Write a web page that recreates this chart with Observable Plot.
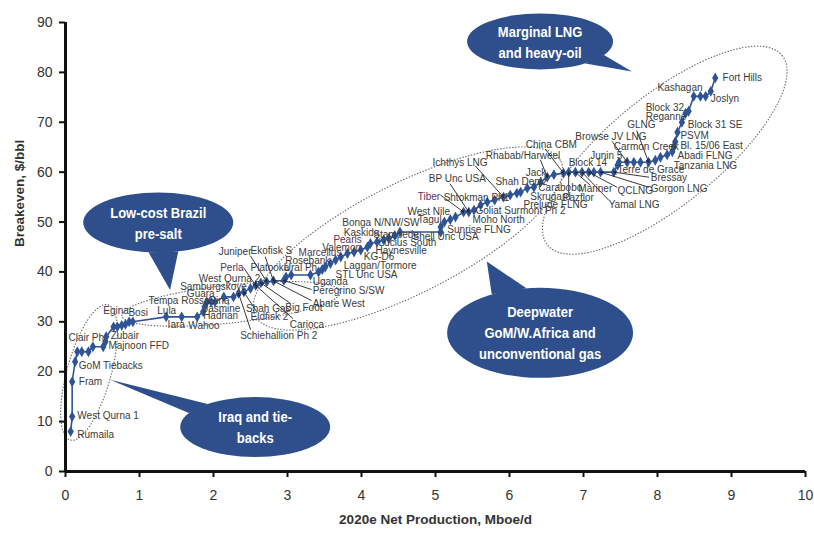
<!DOCTYPE html>
<html><head><meta charset="utf-8">
<script src="https://cdn.jsdelivr.net/npm/d3@7"></script>
<script src="https://cdn.jsdelivr.net/npm/@observablehq/plot@0.6"></script>
<style>
body{margin:0;background:#fff;}
#chart svg{display:block;}
</style>
</head><body><div id="chart"></div>
<script>
// ---- Cost-curve series (cumulative 2020e net production, breakeven) ----
const production = [0.07,0.09,0.09,0.13,0.16,0.22,0.31,0.37,0.51,0.54,0.55,0.65,0.70,0.76,0.81,0.86,0.91,
  1.36,1.57,1.78,1.86,1.88,1.91,1.97,2.02,2.14,2.27,2.34,2.41,2.50,2.57,2.64,2.72,2.81,2.95,2.98,3.05,3.31,
  3.42,3.47,3.51,3.58,3.65,3.72,3.81,3.90,3.99,4.08,4.12,4.21,4.30,4.37,4.45,4.52,5.07,5.07,5.12,5.20,5.27,
  5.38,5.45,5.52,5.61,5.70,5.80,5.92,6.01,6.10,6.15,6.24,6.33,6.42,6.51,6.60,6.73,6.80,6.89,6.98,7.07,7.14,
  7.23,7.41,7.46,7.48,7.59,7.68,7.77,7.88,7.97,8.04,8.13,8.20,8.22,8.24,8.27,8.33,8.38,8.42,8.49,8.58,8.65,
  8.72,8.78];
const breakeven = [8,11,18,22,24,24,24,25,25,26,27,29,29,29.3,29.5,30,30,
  31,31,31,32,33,34,34,34,35,35,35.7,36,36.7,37.3,37.8,38,38.2,38.3,39,39.4,39.4,
  40,40.5,41,41.7,42.4,43,43.7,44,44.4,45,45.7,46,46.4,46.7,47.3,48,48,49,50,50.5,51,
  52,52,52.4,53.4,54,54.4,55,55.4,55.8,56,56.8,57,58,59,59.5,59.8,60,60,60,60,60,
  60,60,61.4,62,62,62,62,62,62.4,63,63.5,64.1,65.1,66.1,68,70,71.8,72.2,75.2,75.2,75.2,
  76.2,78.9];

// ---- Project labels (name, anchor in data units) ----
const labelNames = ["Rumaila","West Qurna 1","Fram","GoM Tiebacks","Clair Ph","Zubair","Majnoon FFD","Egina","Bosi",
  "Tempa Rossa","Lula","Iara","Wahoo","Guara","Samburgskoye","West Qurna 2","Perla","Juniper","Ekofisk S","Platooka",
  "Ural Ph","Rosebank","Marcellus","Valemon","Pearls","Kaskida","Bonga N/NW/SW","Stampede","Lucius South","Haynesville",
  "KG-D6","Laggan/Tormore","STL Unc USA","Uganda","Peregrino S/SW","Abare West","Big Foot","Carioca","Eldfisk 2",
  "Schiehallion Ph 2","Jasmine","Hadrian","Gina","Shah Gas","West Nile","Tagul","Moho North","Sunrise FLNG",
  "Shell Unc USA","Goliat Surmont Ph 2","Tiber","Shtokman Ph1","BP Unc USA","Ichthys LNG","Rhabab/Harweel","China CBM",
  "Jack","Shah Deniz","Carabobo","Skrugard","Pazflor","Prelude FLNG","Mariner","Block 14","Junin 5","Browse JV LNG",
  "Carmon Creek","GLNG","Terre de Grace","Bressay","Gorgon LNG","QCLNG","Yamal LNG","Abadi FLNG","Tanzania LNG",
  "Bl. 15/06 East","PSVM","Block 31 SE","Reganne","Block 32","Kashagan","Joslyn","Fort Hills"];
const labelX = [0.16,0.16,0.18,0.18,0.04,0.61,0.58,0.51,0.85,
  1.12,1.24,1.38,1.66,1.64,1.55,1.80,2.09,2.07,2.50,2.50,
  2.95,2.97,3.15,3.47,3.62,3.76,3.74,4.16,4.23,4.19,
  4.03,3.76,3.65,3.34,3.34,3.34,2.97,3.03,2.50,
  2.36,1.86,1.86,1.93,2.44,4.62,4.76,5.50,5.16,
  4.69,5.54,4.76,5.11,4.91,4.96,5.68,6.22,
  6.22,5.81,6.39,6.28,6.72,6.19,6.93,6.80,7.09,6.89,
  7.41,7.59,7.46,7.91,7.91,7.46,7.34,8.27,8.22,
  8.31,8.31,8.41,7.84,7.84,8.00,8.72,8.88];
const labelY = [7.4,11.2,17.9,21.1,26.9,27.3,25.1,32.3,31.9,
  34.3,32.3,29.5,29.3,35.7,37.1,38.6,40.8,44.0,44.2,40.8,
  40.8,42.2,43.8,44.8,46.4,47.8,49.8,47.4,45.8,44.2,
  43.0,41.2,39.4,38.0,36.3,33.7,32.9,29.5,31.1,
  27.3,32.7,31.3,34.3,32.7,52.0,50.4,50.4,48.4,
  47.0,52.2,55.0,54.8,58.6,61.8,63.3,65.5,
  59.8,58.0,56.8,55.0,54.8,53.4,56.6,61.8,63.3,67.1,
  65.1,69.5,60.4,58.8,56.6,56.2,53.4,63.2,61.2,
  65.2,67.2,69.5,71.1,72.9,76.9,74.7,78.9];
const accentNames = ["Perla","Pearls","Tiber","Marcellus"];

// ---- Leader lines: label end -> project point ----
const leaderFromX = [2.50,2.70,2.41,3.32,3.32,3.04,3.07,2.58,2.50,5.07,5.20,5.54,6.42,6.49,7.39,7.72,7.88,7.88,7.45,7.34,7.09,6.80];
const leaderFromY = [43.2,43.0,40.8,36.5,34.3,33.7,30.7,32.1,28.5,55.4,57.6,61.2,62.4,64.5,66.1,68.3,59.0,57.0,57.0,54.4,57.4,55.8];
const leaderToX   = [2.72,2.81,2.57,2.95,2.81,2.64,2.57,2.41,2.34,5.38,5.45,5.92,6.51,6.73,7.59,7.88,7.41,7.23,7.07,6.98,6.89,6.80];
const leaderToY   = [38.0,38.2,37.3,38.3,38.2,37.8,37.3,36.0,35.7,52.0,52.0,55.0,59.0,59.8,62.0,62.0,60.0,60.0,60.0,60.0,60.0,60.0];

// ---- Group outlines (ends in data units) ----
const groupX1 = [0.07,0.77,2.57,6.52];
const groupY1 = [6.2,31.1,31.1,45.3];
const groupX2 = [0.58,3.72,6.70,9.69];
const groupY2 = [33.3,35.9,62.1,83.3];

// ---- Callouts ----
const calloutText = [["Marginal LNG","and heavy-oil"],["Low-cost Brazil","pre-salt"],
  ["Deepwater","GoM/W.Africa and","unconventional gas"],["Iraq and tie-","backs"]];
const calloutX = [6.42,1.26,6.42,2.57];
const calloutY = [86.1,49.8,27.7,8.8];
const calloutTipX = [7.66,1.42,5.70,0.61];
const calloutTipY = [80.1,36.3,42.0,18.3];

const xTicks = d3.range(0, 11);
const yTicks = d3.range(0, 91, 10);

// tables
const points = production.map((x, i) => ({x, y: breakeven[i]}));
const labels = labelNames.map((name, i) => ({name, x: labelX[i], y: labelY[i]}));
const leaders = leaderFromX.map((x1, i) => ({x1, y1: leaderFromY[i], x2: leaderToX[i], y2: leaderToY[i]}));
const groups = groupX1.map((x1, i) => ({x1, y1: groupY1[i], x2: groupX2[i], y2: groupY2[i]}));
const callouts = calloutText.map((lines, i) => ({lines, x: calloutX[i], y: calloutY[i], tx: calloutTipX[i], ty: calloutTipY[i]}));

const BLUE = "#2f5496";
const CALLOUT = "#2e4f8c";
const groupHalfWidth = [22, 19, 55, 55];
const calloutR = [[73,28],[75,30],[93,45],[75,30]];

function groupMark(index, {x, y}) {
  const g = d3.create("svg:g");
  groups.forEach((d, i) => {
    const ax = x(d.x1), ay = y(d.y1), bx = x(d.x2), by = y(d.y2);
    const cx = (ax + bx) / 2, cy = (ay + by) / 2;
    const a = Math.hypot(bx - ax, by - ay) / 2;
    const ang = Math.atan2(by - ay, bx - ax) * 180 / Math.PI;
    g.append("ellipse").attr("cx", cx).attr("cy", cy).attr("rx", a).attr("ry", groupHalfWidth[i])
      .attr("transform", `rotate(${ang} ${cx} ${cy})`)
      .attr("fill", "none").attr("stroke", "#666").attr("stroke-width", 1.1)
      .attr("stroke-dasharray", "1.4,1.6");
  });
  return g.node();
}

function calloutMark(index, {x, y}) {
  const g = d3.create("svg:g");
  callouts.forEach((d, i) => {
    const cx = x(d.x), cy = y(d.y), [rx, ry] = calloutR[i];
    const tx = x(d.tx), ty = y(d.ty);
    const t = Math.atan2((ty - cy) / ry, (tx - cx) / rx);
    const dl = 0.2;
    const p1 = [cx + rx * Math.cos(t - dl), cy + ry * Math.sin(t - dl)];
    const p2 = [cx + rx * Math.cos(t + dl), cy + ry * Math.sin(t + dl)];
    g.append("path").attr("d", `M${p1}L${tx},${ty}L${p2}Z`).attr("fill", CALLOUT);
    g.append("ellipse").attr("cx", cx).attr("cy", cy).attr("rx", rx).attr("ry", ry).attr("fill", CALLOUT);
    const lh = 21;
    d.lines.forEach((line, j) => {
      const ly = cy + (j - (d.lines.length - 1) / 2) * lh;
      g.append("text").attr("transform", `translate(${cx},${ly}) scale(0.84,1)`)
        .attr("dy", "0.36em").attr("text-anchor", "middle").attr("fill", "#fff")
        .attr("font-family", "'Liberation Sans', Arial, sans-serif")
        .attr("font-weight", "bold").attr("font-size", 15.5).text(line);
    });
  });
  return g.node();
}

const plot = Plot.plot({
  width: 814,
  height: 534,
  marginLeft: 65,
  marginRight: 9,
  marginTop: 22,
  marginBottom: 63,
  style: {fontFamily: "'Liberation Sans', Arial, sans-serif", background: "#fff", color: "#333"},
  x: {domain: [0, 10]},
  y: {domain: [0, 90]},
  marks: [
    groupMark,
    Plot.axisX({ticks: xTicks, tickSize: 6, tickPadding: 13, fontSize: 14, strokeWidth: 2, stroke: "#111", fill: "#333", label: null}),
    Plot.axisY({ticks: yTicks, tickSize: 6, tickPadding: 7, fontSize: 14, strokeWidth: 2, stroke: "#111", fill: "#333", label: null}),
    Plot.ruleY([0], {stroke: "#111", strokeWidth: 3}),
    Plot.ruleX([0], {stroke: "#111", strokeWidth: 3}),
    Plot.line(points, {x: "x", y: "y", stroke: BLUE, strokeWidth: 1.6}),
    Plot.dot(points, {x: "x", y: "y", symbol: "diamond", r: 3.3, fill: BLUE, stroke: null}),
    Plot.arrow(leaders, {x1: "x1", y1: "y1", x2: "x2", y2: "y2", stroke: "#222", strokeWidth: 0.9, headLength: 5}),
    Plot.text(labels, {x: "x", y: "y", text: "name", textAnchor: "start", fontSize: 10,
      fill: d => accentNames.includes(d.name) ? "#5b3152" : "#3a3a3a"}),
    Plot.text(["2020e Net Production, Mboe/d"], {frameAnchor: "bottom", dy: 52, fontSize: 13.5, fontWeight: "bold", fill: "#333"}),
    Plot.text(["Breakeven, $/bbl"], {frameAnchor: "left", dx: -46, rotate: -90, fontSize: 13.5, fontWeight: "bold", fill: "#333"}),
    calloutMark
  ]
});
document.getElementById("chart").append(plot);
</script>
</body></html>
